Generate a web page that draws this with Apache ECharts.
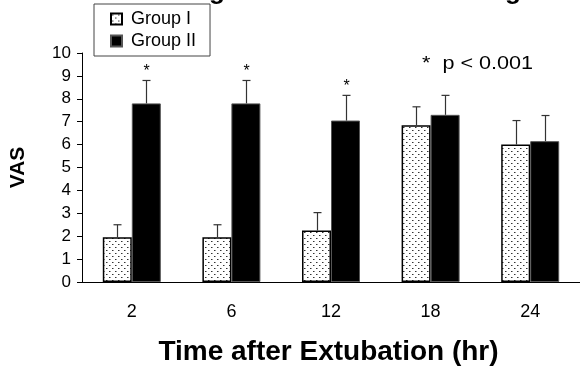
<!DOCTYPE html>
<html>
<head>
<meta charset="utf-8">
<script src="https://cdn.jsdelivr.net/npm/echarts@6/dist/echarts.min.js"></script>
<style>
  html, body { margin: 0; padding: 0; background: #fff; }
  #vas { width: 580px; height: 371px; }
</style>
</head>
<body>
<div id="vas"></div>
<script>
// VAS after extubation
var hours = ['2', '6', '12', '18', '24'];
var groupI = [1.95, 1.95, 2.25, 6.85, 6.0];
var groupIsd = [0.55, 0.55, 0.78, 0.8, 1.05];
var groupII = [7.8, 7.8, 7.05, 7.3, 6.15];
var groupIIsd = [1.0, 1.0, 1.1, 0.85, 1.12];
var signif = [1, 1, 1, 0, 0];
var yTicks = [0, 10, 1];

var font = 'Arial, "Liberation Sans", sans-serif';

// dotted fill for group I
function dots() {
    var c = document.createElement('canvas');
    c.width = 6; c.height = 6;
    var ctx = c.getContext('2d');
    ctx.fillStyle = '#fff';
    ctx.fillRect(0, 0, 6, 6);
    ctx.fillStyle = '#333';
    ctx.fillRect(1, 1, 1, 1);
    ctx.fillRect(4, 4, 1, 1);
    ctx.fillStyle = '#999';
    ctx.fillRect(2, 1, 1, 1);
    ctx.fillRect(5, 4, 1, 1);
    return c;
}

function errData(m, sd) {
    return m.map(function (v, i) { return [i, v, sd[i], signif[i]]; });
}

function errBars(shift, star) {
    return function (params, api) {
        var top = api.coord([api.value(0), api.value(1) + api.value(2)]);
        var base = api.coord([api.value(0), api.value(1)]);
        var x = Math.round(top[0] + shift) + 0.5;
        var kids = [
            { type: 'line', shape: { x1: x, y1: base[1], x2: x, y2: top[1] },
              style: { stroke: '#333', lineWidth: 1.2 } },
            { type: 'line', shape: { x1: x - 4, y1: top[1], x2: x + 4, y2: top[1] },
              style: { stroke: '#333', lineWidth: 1.2 } }
        ];
        if (star && api.value(3)) {
            kids.push({ type: 'text', x: x, y: top[1] - 1,
                style: { text: '*', font: '16px ' + font, fill: '#000', align: 'center', verticalAlign: 'bottom' } });
        }
        return { type: 'group', children: kids };
    };
}

var chart = echarts.init(document.getElementById('vas'));

var option = {
    animation: false,
    backgroundColor: '#fff',
    textStyle: { fontFamily: font },
    grid: { left: 82, top: 53, bottom: 86, width: 507 },
    legend: {
        orient: 'vertical',
        left: 94,
        top: 4,
        padding: [6, 14, 6, 16],
        borderColor: '#444',
        borderWidth: 1,
        icon: 'rect',
        itemWidth: 11,
        itemHeight: 11,
        itemGap: 4,
        textStyle: { fontSize: 18, color: '#000', fontFamily: font, padding: [0, 0, 0, 4] },
        data: ['Group I', 'Group II']
    },
    graphic: [
        { type: 'text', x: 422, y: 64, scaleX: 1.2,
          style: { text: '*  p < 0.001', font: '18px ' + font, fill: '#000', verticalAlign: 'middle' } },
        { type: 'text', x: 521, y: 5,
          style: { text: 'Sore Throat Rating at Rest and Swallowing', font: 'bold 26px ' + font,
                   fill: '#000', align: 'right', verticalAlign: 'bottom' } }
    ],
    xAxis: {
        type: 'category',
        data: hours,
        name: 'Time after Extubation (hr)',
        nameLocation: 'middle',
        nameGap: 56,
        nameTextStyle: { fontSize: 28, fontWeight: 'bold', color: '#000', padding: [0, 5, 0, 0] },
        axisLine: { lineStyle: { color: '#000', width: 1 } },
        axisTick: { show: false },
        axisLabel: { fontSize: 18, color: '#000', margin: 21 }
    },
    yAxis: {
        type: 'value',
        min: yTicks[0],
        max: yTicks[1],
        interval: yTicks[2],
        name: 'VAS',
        nameLocation: 'middle',
        nameGap: 53,
        nameRotate: 90,
        nameTextStyle: { fontSize: 21, fontWeight: 'bold', color: '#000' },
        axisLine: { show: true, lineStyle: { color: '#000', width: 1 } },
        axisTick: { show: true, length: 5, lineStyle: { color: '#000' } },
        axisLabel: { fontSize: 17, color: '#000', margin: 11 },
        splitLine: { show: false }
    },
    series: [
        {
            name: 'Group I',
            type: 'bar',
            data: groupI,
            barWidth: 29,
            barGap: '0%',
            itemStyle: { color: { image: dots(), repeat: 'repeat' }, borderColor: '#000', borderWidth: 1.5 }
        },
        {
            name: 'Group II',
            type: 'bar',
            data: groupII,
            barWidth: 29,
            itemStyle: { color: '#000', borderColor: '#555', borderWidth: 1 }
        },
        {
            type: 'custom',
            renderItem: errBars(-14.5, false),
            data: errData(groupI, groupIsd),
            z: 3
        },
        {
            type: 'custom',
            renderItem: errBars(14.5, true),
            data: errData(groupII, groupIIsd),
            z: 3
        }
    ]
};

chart.setOption(option);
</script>
</body>
</html>
